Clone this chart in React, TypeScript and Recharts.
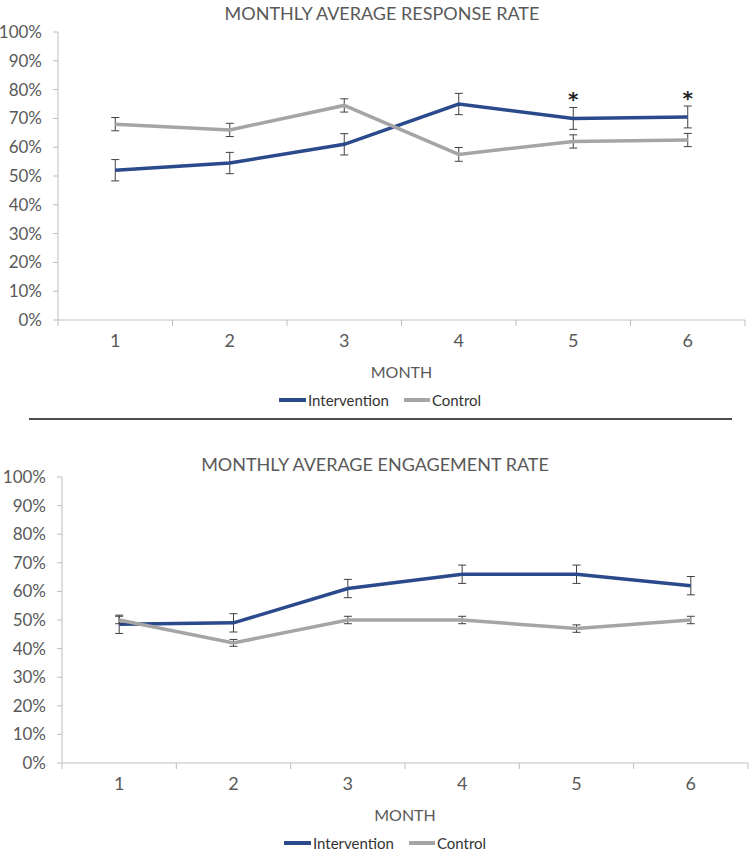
import React from 'react';
import { LineChart, Line, XAxis, YAxis, ErrorBar, LabelList } from 'recharts';

const months = [1, 2, 3, 4, 5, 6];
const monthBounds = [0.5, 1.5, 2.5, 3.5, 4.5, 5.5, 6.5];
const percentTicks = [0, 10, 20, 30, 40, 50, 60, 70, 80, 90, 100];

// monthly average response rate, %
const responseIntervention = [52, 54.5, 61, 75, 70, 70.5];
const responseInterventionErr = [3.7, 3.7, 3.7, 3.7, 3.8, 3.8];
const responseControl = [68, 66, 74.5, 57.5, 62, 62.5];
const responseControlErr = [2.3, 2.3, 2.3, 2.4, 2.3, 2.3];
const responseSignificant = ['', '', '', '', '*', '*'];

// monthly average engagement rate, %
const engagementIntervention = [48.5, 49, 61, 66, 66, 62];
const engagementInterventionErr = [3.2, 3.2, 3.2, 3.2, 3.2, 3.2];
const engagementControl = [50, 42, 50, 50, 47, 50];
const engagementControlErr = [1.3, 1.2, 1.3, 1.3, 1.3, 1.3];
const engagementSignificant = ['', '', '', '', '', ''];

const BLUE = '#2a4a8c';
const GREY = '#a5a5a5';
const AXIS = '#bfbfbf';
const TEXT = '#595959';
const ERR = '#404040';
const FONT = 'Lato, "Liberation Sans", sans-serif';

const TICK_SIZE = 6;
const TICK_MARGIN = 8;

const xTicks = [...monthBounds, ...months].sort((a, b) => a - b);

const buildRows = (
  intervention: number[],
  interventionErr: number[],
  control: number[],
  controlErr: number[],
  sig: string[]
) =>
  months.map((m, i) => ({
    month: m,
    intervention: intervention[i],
    interventionErr: interventionErr[i],
    control: control[i],
    controlErr: controlErr[i],
    sig: sig[i],
  }));

const responseRows = buildRows(
  responseIntervention,
  responseInterventionErr,
  responseControl,
  responseControlErr,
  responseSignificant
);
const engagementRows = buildRows(
  engagementIntervention,
  engagementInterventionErr,
  engagementControl,
  engagementControlErr,
  engagementSignificant
);

// boundary ticks get a small mark, month ticks get a label
const MonthTick = (props: any) => {
  const { x, y, payload } = props;
  const v = payload.value;
  if (!Number.isInteger(v)) {
    const axisY = y - TICK_SIZE - TICK_MARGIN;
    return <line x1={x} x2={x} y1={axisY} y2={axisY + TICK_SIZE} stroke={AXIS} />;
  }
  return (
    <text x={x} y={y} dy="0.71em" textAnchor="middle" fill={TEXT} fontSize={18} fontFamily={FONT}>
      {v}
    </text>
  );
};

const LegendKey = ({ left, top }: { left: number; top: number }) => (
  <div
    style={{
      position: 'absolute',
      left,
      top: top - 10,
      height: 20,
      display: 'flex',
      alignItems: 'center',
      fontFamily: FONT,
      fontSize: 15,
      color: '#333',
    }}
  >
    <span style={{ width: 27, height: 4, background: BLUE, display: 'inline-block' }} />
    <span style={{ marginLeft: 2 }}>Intervention</span>
    <span style={{ width: 26, height: 4, background: GREY, display: 'inline-block', marginLeft: 15 }} />
    <span style={{ marginLeft: 2 }}>Control</span>
  </div>
);

interface RateChartProps {
  title: string;
  data: ReturnType<typeof buildRows>;
  top: number;
  height: number;
  margin: { top: number; right: number; bottom: number; left: number };
  yAxisWidth: number;
  titleCenter: number;
  titleY: number;
  legendLeft: number;
  legendY: number;
}

const RateChart = ({ title, data, top, height, margin, yAxisWidth, titleCenter, titleY, legendLeft, legendY }: RateChartProps) => (
  <>
    <div
      style={{
        position: 'absolute',
        left: titleCenter - 250,
        width: 500,
        top: titleY - 11,
        lineHeight: '22px',
        textAlign: 'center',
        fontFamily: FONT,
        fontSize: 18,
        color: TEXT,
      }}
    >
      {title}
    </div>
    <div style={{ position: 'absolute', left: 0, top }}>
      <LineChart width={750} height={height} data={data} margin={margin}>
        <XAxis
          dataKey="month"
          type="number"
          domain={[0.5, 6.5]}
          ticks={xTicks}
          interval={0}
          tick={<MonthTick />}
          tickLine={false}
          tickSize={TICK_SIZE}
          tickMargin={TICK_MARGIN}
          axisLine={{ stroke: AXIS }}
          height={60}
          label={{ value: 'MONTH', position: 'insideBottom', offset: 2, fill: TEXT, fontSize: 16, fontFamily: FONT }}
        />
        <YAxis
          domain={[0, 100]}
          ticks={percentTicks}
          interval={0}
          tickFormatter={(v) => `${v}%`}
          width={yAxisWidth}
          tickSize={5}
          tickMargin={11}
          axisLine={{ stroke: AXIS }}
          tickLine={{ stroke: AXIS }}
          tick={{ fill: TEXT, fontSize: 17, fontFamily: FONT }}
        />
        <Line
          type="linear"
          dataKey="intervention"
          stroke={BLUE}
          strokeWidth={3.5}
          dot={false}
          activeDot={false}
          isAnimationActive={false}
        >
          <ErrorBar dataKey="interventionErr" direction="y" width={4} stroke={ERR} strokeWidth={1} />
          <LabelList
            dataKey="sig"
            position="top"
            offset={12}
            fill="#222"
            fontSize={20}
            fontWeight="bold"
            fontFamily='"DejaVu Sans", sans-serif'
          />
        </Line>
        <Line
          type="linear"
          dataKey="control"
          stroke={GREY}
          strokeWidth={3.5}
          dot={false}
          activeDot={false}
          isAnimationActive={false}
        >
          <ErrorBar dataKey="controlErr" direction="y" width={4} stroke={ERR} strokeWidth={1} />
        </Line>
      </LineChart>
    </div>
    <LegendKey left={legendLeft} top={legendY} />
  </>
);

export default function App() {
  return (
    <div style={{ position: 'absolute', left: 0, top: 0, width: 750, height: 852, background: '#fff' }}>
      <RateChart
        title="MONTHLY AVERAGE RESPONSE RATE"
        data={responseRows}
        top={0}
        height={418}
        margin={{ top: 32, right: 5, bottom: 38, left: 0 }}
        yAxisWidth={58}
        titleCenter={382}
        titleY={13}
        legendLeft={279}
        legendY={400}
      />
      <div style={{ position: 'absolute', left: 29, top: 418, width: 703, height: 1.5, background: '#4d4d4d' }} />
      <RateChart
        title="MONTHLY AVERAGE ENGAGEMENT RATE"
        data={engagementRows}
        top={420}
        height={432}
        margin={{ top: 57, right: 2, bottom: 29, left: 0 }}
        yAxisWidth={62}
        titleCenter={375}
        titleY={464}
        legendLeft={284}
        legendY={843}
      />
    </div>
  );
}
